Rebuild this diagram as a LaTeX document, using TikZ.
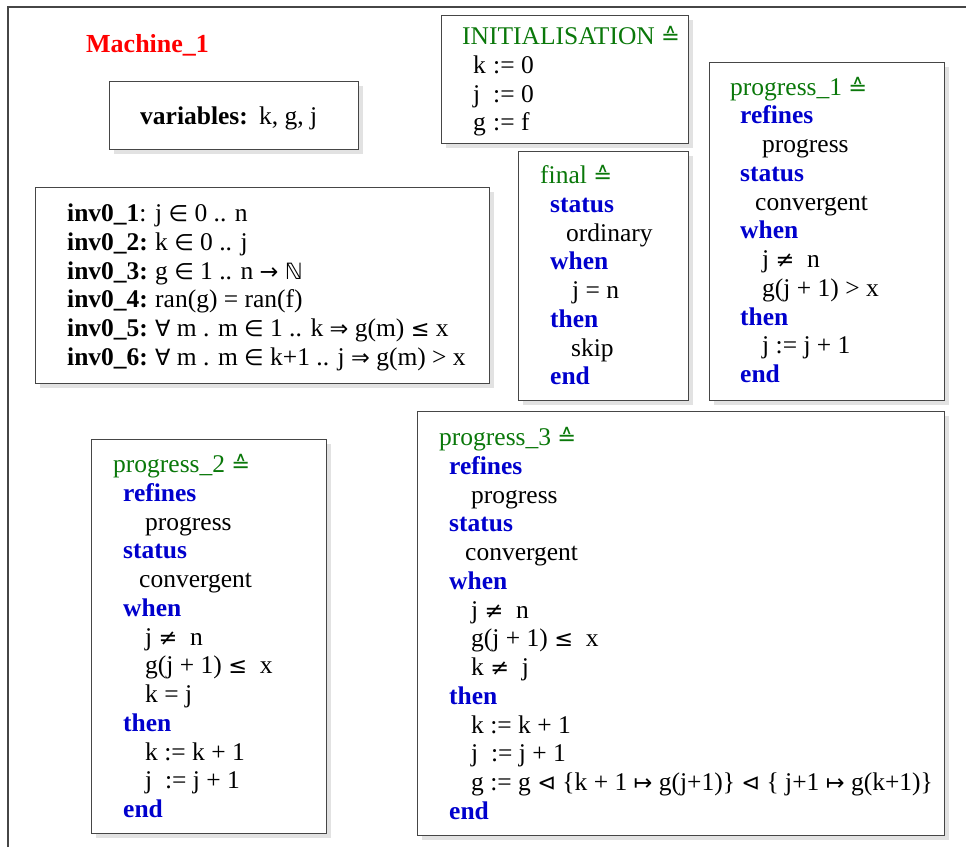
\documentclass[tikz,border=0pt]{standalone}
\usepackage{fontspec}
\setmainfont{Liberation Serif}
\newfontfamily\symf{DejaVu Sans}[Scale=0.88]
\newcommand{\sy}[1]{{\symf #1}}
\usetikzlibrary{shadows}
\definecolor{boxgray}{RGB}{70,70,70}
\definecolor{kwblue}{RGB}{0,0,205}
\definecolor{ttlgreen}{RGB}{10,120,10}
\definecolor{shadowgray}{RGB}{226,226,226}
\tikzset{
  evbox/.style={draw=boxgray, line width=1.2pt, fill=white, anchor=north west, inner sep=0pt,
    general shadow={fill=shadowgray, shadow xshift=4pt, shadow yshift=-4pt}},
  txt/.style={anchor=base west, inner sep=0pt, font=\fontsize{25.5}{28.75}\selectfont},
  kw/.style={txt, text=kwblue, font=\fontsize{25.5}{28.75}\selectfont\bfseries},
  ttl/.style={txt, text=ttlgreen},
  frameline/.style={draw=boxgray, line width=1.2pt}
}
\begin{document}
\begin{tikzpicture}[x=1pt, y=-1pt]
\useasboundingbox (0,0) rectangle (966,847);
\coordinate (fb) at (8,847);
\coordinate (fc) at (8,7);
\coordinate (fr) at (966,7);
\draw[frameline] (fb) -- (fc) -- (fr);

\node[txt, text=red, font=\fontsize{26}{30}\selectfont\bfseries] (mach) at (86,52) {Machine\_1};

% variables
\node[evbox, minimum width=249pt, minimum height=68pt] (varbox) at (109,81) {};
\node[txt, font=\fontsize{25.5}{28.75}\selectfont\bfseries] (varlab) at (140,124) {variables:};
\node[txt] (varval) at (259,124) {k, g, j};

% boxes
\node[evbox, minimum width=247pt, minimum height=128pt] (initbox) at (441,15) {};
\node[evbox, minimum width=454pt, minimum height=196pt] (invbox) at (35,187) {};
\node[evbox, minimum width=170pt, minimum height=249pt] (finbox) at (518,151) {};
\node[evbox, minimum width=235pt, minimum height=338pt] (p1box) at (709,62) {};
\node[evbox, minimum width=235pt, minimum height=394pt] (p2box) at (91,439) {};
\node[evbox, minimum width=527pt, minimum height=424pt] (p3box) at (417,411) {};

\begin{scope}[yshift=-1.5pt]
% initialisation
\node[ttl] (i0) at (462,43) {INITIALISATION \sy{≙}};
\node[txt] (i1) at (473,71.75) {\makebox[20pt][l]{k}:= 0};
\node[txt] (i2) at (473,100.5) {\makebox[20pt][l]{j}:= 0};
\node[txt] (i3) at (473,129.25) {\makebox[20pt][l]{g}:= f};

% invariants
\node[txt] (v1) at (67,220) {\makebox[88pt][l]{\textbf{inv0\_1}:}j \sy{∈} 0 .. n};
\node[txt] (v2) at (67,248.75) {\makebox[88pt][l]{\textbf{inv0\_2:}}k \sy{∈} 0 .. j};
\node[txt] (v3) at (67,277.5) {\makebox[88pt][l]{\textbf{inv0\_3:}}g \sy{∈} 1 .. n \sy{→} \sy{ℕ}};
\node[txt] (v4) at (67,306.25) {\makebox[88pt][l]{\textbf{inv0\_4:}}ran(g) = ran(f)};
\node[txt] (v5) at (67,335) {\makebox[88pt][l]{\textbf{inv0\_5:}}\sy{∀} m . m~\sy{∈} 1 .. k \sy{⇒}~g(m) \sy{≤} x};
\node[txt] (v6) at (67,363.75) {\makebox[88pt][l]{\textbf{inv0\_6:}}\sy{∀} m . m \sy{∈} k+1 .. j \sy{⇒} g(m) > x};

% final
\node[ttl] (f0) at (540,182) {final \sy{≙}};
\node[kw] (f1) at (550,210.75) {status};
\node[txt] (f2) at (566,239.5) {ordinary};
\node[kw] (f3) at (550,268.25) {when};
\node[txt] (f4) at (572,297) {j = n};
\node[kw] (f5) at (550,325.75) {then};
\node[txt] (f6) at (571,354.5) {skip};
\node[kw] (f7) at (550,383.25) {end};

% progress_1
\node[ttl] (a0) at (730,93.5) {progress\_1 \sy{≙}};
\node[kw] (a1) at (740,122.25) {refines};
\node[txt] (a2) at (762,151) {progress};
\node[kw] (a3) at (740,179.75) {status};
\node[txt] (a4) at (755,208.5) {convergent};
\node[kw] (a5) at (740,237.25) {when};
\node[txt] (a6) at (762,266) {j \sy{≠}~ n};
\node[txt] (a7) at (762,294.75) {g(j + 1) > x};
\node[kw] (a8) at (740,323.5) {then};
\node[txt] (a9) at (762,352.25) {j := j + 1};
\node[kw] (a10) at (740,381) {end};

% progress_2
\node[ttl] (b0) at (113,471) {progress\_2 \sy{≙}};
\node[kw] (b1) at (123,499.75) {refines};
\node[txt] (b2) at (145,528.5) {progress};
\node[kw] (b3) at (123,557.25) {status};
\node[txt] (b4) at (139,586) {convergent};
\node[kw] (b5) at (123,614.75) {when};
\node[txt] (b6) at (145,643.5) {j \sy{≠}~ n};
\node[txt] (b7) at (145,672.25) {g(j + 1) \sy{≤}~ x};
\node[txt] (b8) at (145,701) {k = j};
\node[kw] (b9) at (123,729.75) {then};
\node[txt] (b10) at (145,758.5) {k := k + 1};
\node[txt] (b11) at (145,787.25) {j~ := j + 1};
\node[kw] (b12) at (123,816) {end};

% progress_3
\node[ttl] (c0) at (439,444) {progress\_3 \sy{≙}};
\node[kw] (c1) at (449,472.75) {refines};
\node[txt] (c2) at (471,501.5) {progress};
\node[kw] (c3) at (449,530.25) {status};
\node[txt] (c4) at (465,559) {convergent};
\node[kw] (c5) at (449,587.75) {when};
\node[txt] (c6) at (471,616.5) {j \sy{≠}~ n};
\node[txt] (c7) at (471,645.25) {g(j + 1) \sy{≤}~ x};
\node[txt] (c8) at (471,674) {k \sy{≠}~ j};
\node[kw] (c9) at (449,702.75) {then};
\node[txt] (c10) at (471,731.5) {k := k + 1};
\node[txt] (c11) at (471,760.25) {j~ := j + 1};
\node[txt] (c12) at (471,789) {g := g \sy{⊲} \{k + 1 \sy{↦} g(j+1)\} \sy{⊲} \{ j+1 \sy{↦} g(k+1)\}};
\node[kw] (c13) at (449,817.75) {end};
\end{scope}
\end{tikzpicture}
\end{document}
